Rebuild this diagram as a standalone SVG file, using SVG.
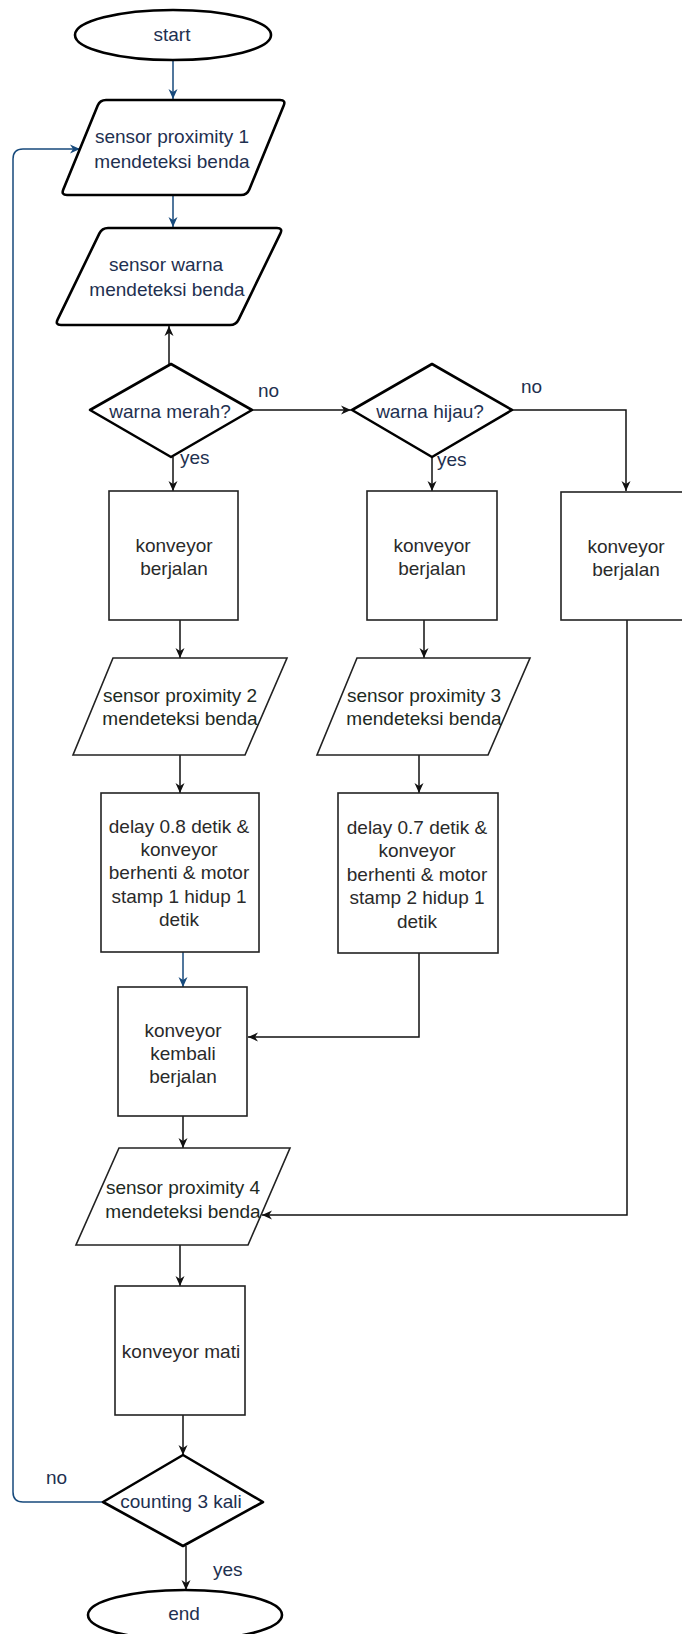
<svg xmlns="http://www.w3.org/2000/svg" width="682" height="1634" viewBox="0 0 682 1634">
<defs>
<style>
.thick{fill:#fff;stroke:#000;stroke-width:2.6;stroke-linejoin:round}
.box{fill:#fff;stroke:#222;stroke-width:1.6}
.edge{fill:none;stroke:#111;stroke-width:1.5}
.blue{fill:none;stroke:#174a7c;stroke-width:1.5}
text{font-family:"Liberation Sans",Arial,sans-serif;font-size:19px;text-anchor:middle}
.tn{fill:#1e3050}
.tb{fill:#2a2a2a}
.tg{fill:#1d2a23}
.lbl{fill:#1e3050;text-anchor:start}
</style>
<marker id="ab" viewBox="0 0 10 10" refX="10" refY="5" markerWidth="10" markerHeight="10" markerUnits="userSpaceOnUse" orient="auto">
<path d="M0,0.5 L10,5 L0,9.5 L3,5 Z" fill="#111"/>
</marker>
<marker id="abl" viewBox="0 0 10 10" refX="10" refY="5" markerWidth="10" markerHeight="10" markerUnits="userSpaceOnUse" orient="auto">
<path d="M0,0.5 L10,5 L0,9.5 L3,5 Z" fill="#174a7c"/>
</marker>
</defs>
<rect x="0" y="0" width="682" height="1634" fill="#fff"/>

<g id="connectors">
<path class="blue" d="M173,60 V99" marker-end="url(#abl)"/>
<path class="blue" d="M173,195 V227" marker-end="url(#abl)"/>
<path class="edge" d="M169,364 V326" marker-end="url(#ab)"/>
<path class="edge" d="M252,410 H351" marker-end="url(#ab)"/>
<path class="edge" d="M173,457 V491" marker-end="url(#ab)"/>
<path class="edge" d="M432,457 V491" marker-end="url(#ab)"/>
<path class="edge" d="M512,410 H626 V491" marker-end="url(#ab)"/>
<path class="edge" d="M180,620 V658" marker-end="url(#ab)"/>
<path class="edge" d="M424,620 V658" marker-end="url(#ab)"/>
<path class="edge" d="M180,755 V793" marker-end="url(#ab)"/>
<path class="edge" d="M419,755 V793" marker-end="url(#ab)"/>
<path class="blue" d="M183,952 V987" marker-end="url(#abl)"/>
<path class="edge" d="M419,953 V1037 H248" marker-end="url(#ab)"/>
<path class="edge" d="M183,1116 V1148" marker-end="url(#ab)"/>
<path class="edge" d="M627,620 V1215 H262" marker-end="url(#ab)"/>
<path class="edge" d="M180,1245 V1286" marker-end="url(#ab)"/>
<path class="edge" d="M183,1415 V1455" marker-end="url(#ab)"/>
<path class="edge" d="M186,1546 V1590" marker-end="url(#ab)"/>
<path class="blue" d="M103,1502 H23 Q13,1502 13,1492 V159 Q13,149 23,149 H80" marker-end="url(#abl)"/>
<text class="lbl" x="258" y="397">no</text>
<text class="lbl" x="521" y="393">no</text>
<text class="lbl" x="180" y="464">yes</text>
<text class="lbl" x="437" y="466">yes</text>
<text class="lbl" x="46" y="1484">no</text>
<text class="lbl" x="213" y="1576">yes</text>
</g>

<g id="start">
<ellipse class="thick" cx="173" cy="35" rx="98" ry="25"/>
<text class="tn" x="172" y="41">start</text>
</g>

<g id="prox1">
<path class="thick" d="M106,100 L280,100 Q286,100 283.7,105.5 L249.3,189.5 Q247,195 241,195 L67,195 Q61,195 63.3,189.5 L97.7,105.5 Q100,100 106,100 Z"/>
<text class="tn" x="172" y="143">sensor proximity 1</text>
<text class="tn" x="172" y="168">mendeteksi benda</text>
</g>

<g id="warna">
<path class="thick" d="M108,228 L277,228 Q283,228 280.4,233.4 L238.6,319.6 Q236,325 230,325 L61,325 Q55,325 57.6,319.6 L99.4,233.4 Q102,228 108,228 Z"/>
<text class="tn" x="166" y="271">sensor warna</text>
<text class="tn" x="167" y="296">mendeteksi benda</text>
</g>

<g id="merah">
<polygon class="thick" points="171,364 252,410 171,457 90,410"/>
<text class="tn" x="170" y="418">warna merah?</text>
</g>

<g id="hijau">
<polygon class="thick" points="432,364 512,410 432,457 352,410"/>
<text class="tn" x="430" y="418">warna hijau?</text>
</g>

<g id="box1">
<rect class="box" x="109" y="491" width="129" height="129"/>
<text class="tb" x="174" y="552">konveyor</text>
<text class="tb" x="174" y="575">berjalan</text>
</g>

<g id="box2">
<rect class="box" x="367" y="491" width="130" height="129"/>
<text class="tb" x="432" y="552">konveyor</text>
<text class="tb" x="432" y="575">berjalan</text>
</g>

<g id="box3">
<rect class="box" x="561" y="492" width="130" height="128"/>
<text class="tb" x="626" y="553">konveyor</text>
<text class="tb" x="626" y="576">berjalan</text>
</g>

<g id="prox2">
<polygon class="box" points="113,658 287,658 245,755 73,755"/>
<text class="tg" x="180" y="702">sensor proximity 2</text>
<text class="tg" x="180" y="725">mendeteksi benda</text>
</g>

<g id="prox3">
<polygon class="box" points="357,658 530,658 488,755 317,755"/>
<text class="tg" x="424" y="702">sensor proximity 3</text>
<text class="tg" x="424" y="725">mendeteksi benda</text>
</g>

<g id="delay1">
<rect class="box" x="101" y="793" width="158" height="159"/>
<text class="tb" x="179" y="833">delay 0.8 detik &amp;</text>
<text class="tb" x="179" y="856">konveyor</text>
<text class="tb" x="179" y="879">berhenti &amp; motor</text>
<text class="tb" x="179" y="903">stamp 1 hidup 1</text>
<text class="tb" x="179" y="926">detik</text>
</g>

<g id="delay2">
<rect class="box" x="338" y="793" width="160" height="160"/>
<text class="tb" x="417" y="834">delay 0.7 detik &amp;</text>
<text class="tb" x="417" y="857">konveyor</text>
<text class="tb" x="417" y="881">berhenti &amp; motor</text>
<text class="tb" x="417" y="904">stamp 2 hidup 1</text>
<text class="tb" x="417" y="928">detik</text>
</g>

<g id="kembali">
<rect class="box" x="118" y="987" width="129" height="129"/>
<text class="tb" x="183" y="1037">konveyor</text>
<text class="tb" x="183" y="1060">kembali</text>
<text class="tb" x="183" y="1083">berjalan</text>
</g>

<g id="prox4">
<polygon class="box" points="119,1148 290,1148 248,1245 76,1245"/>
<text class="tg" x="183" y="1194">sensor proximity 4</text>
<text class="tg" x="183" y="1218">mendeteksi benda</text>
</g>

<g id="mati">
<rect class="box" x="115" y="1286" width="130" height="129"/>
<text class="tb" x="181" y="1358">konveyor mati</text>
</g>

<g id="counting">
<polygon class="thick" points="183,1455 263,1502 183,1546 103,1502"/>
<text class="tn" x="181" y="1508">counting 3 kali</text>
</g>

<g id="end">
<ellipse class="thick" cx="185" cy="1615" rx="97" ry="25"/>
<text class="tn" x="184" y="1620">end</text>
</g>
</svg>
